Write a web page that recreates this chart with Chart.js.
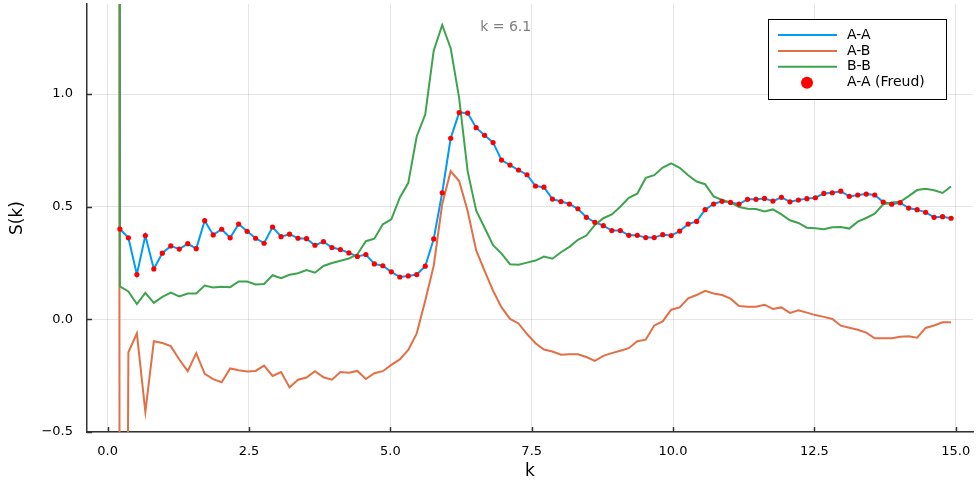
<!DOCTYPE html>
<html>
<head>
<meta charset="utf-8">
<title>S(k)</title>
<script src="https://cdn.jsdelivr.net/npm/chart.js@4/dist/chart.umd.min.js"></script>
<style>
  html, body { margin: 0; padding: 0; background: #fff; }
  canvas { display: block; }
</style>
</head>
<body>
<canvas id="sk-chart" width="977" height="486"></canvas>
<script>
// wave numbers shared by all curves (first bin sits next to k = 0)
const kGrid = [
  0.067, 0.217, 0.367, 0.517, 0.667, 0.817, 0.967, 1.117, 1.267, 1.417,
  1.567, 1.717, 1.867, 2.017, 2.167, 2.317, 2.467, 2.617, 2.767, 2.917,
  3.067, 3.217, 3.367, 3.517, 3.667, 3.817, 3.967, 4.117, 4.267, 4.417,
  4.567, 4.717, 4.867, 5.017, 5.167, 5.317, 5.467, 5.617, 5.767, 5.917,
  6.067, 6.217, 6.367, 6.517, 6.667, 6.817, 6.967, 7.117, 7.267, 7.417,
  7.567, 7.717, 7.867, 8.017, 8.167, 8.317, 8.467, 8.617, 8.767, 8.917,
  9.067, 9.217, 9.367, 9.517, 9.667, 9.817, 9.967, 10.117, 10.267, 10.417,
  10.567, 10.717, 10.867, 11.017, 11.167, 11.317, 11.467, 11.617, 11.767, 11.917,
  12.067, 12.217, 12.367, 12.517, 12.667, 12.817, 12.967, 13.117, 13.267, 13.417,
  13.567, 13.717, 13.867, 14.017, 14.167, 14.317, 14.467, 14.617, 14.767, 14.917
];

const sAA = [
  380, 0.401, 0.362, 0.199, 0.372, 0.224, 0.294, 0.326, 0.312, 0.336,
  0.314, 0.438, 0.375, 0.400, 0.362, 0.423, 0.391, 0.360, 0.338, 0.410,
  0.367, 0.378, 0.360, 0.358, 0.329, 0.345, 0.319, 0.310, 0.295, 0.279,
  0.288, 0.246, 0.238, 0.211, 0.188, 0.193, 0.199, 0.236, 0.357, 0.562,
  0.804, 0.918, 0.916, 0.851, 0.817, 0.785, 0.707, 0.685, 0.663, 0.642,
  0.592, 0.587, 0.534, 0.523, 0.512, 0.491, 0.453, 0.431, 0.416, 0.394,
  0.394, 0.373, 0.373, 0.363, 0.363, 0.376, 0.372, 0.392, 0.423, 0.435,
  0.487, 0.512, 0.524, 0.519, 0.512, 0.533, 0.533, 0.537, 0.525, 0.542,
  0.522, 0.530, 0.536, 0.540, 0.559, 0.562, 0.569, 0.546, 0.552, 0.556,
  0.552, 0.521, 0.511, 0.518, 0.494, 0.487, 0.475, 0.453, 0.456, 0.449
];

const sAB = [
  400, -8.0, -0.146, -0.062, -0.411, -0.097, -0.105, -0.119, -0.178, -0.230,
  -0.150, -0.242, -0.265, -0.279, -0.218, -0.226, -0.231, -0.229, -0.205, -0.251,
  -0.234, -0.302, -0.268, -0.258, -0.230, -0.257, -0.268, -0.234, -0.237, -0.229,
  -0.265, -0.239, -0.230, -0.202, -0.178, -0.136, -0.062, 0.083, 0.238, 0.511,
  0.658, 0.614, 0.481, 0.307, 0.215, 0.127, 0.053, 0.002, -0.018, -0.065,
  -0.106, -0.134, -0.143, -0.157, -0.155, -0.155, -0.167, -0.184, -0.162, -0.150,
  -0.139, -0.128, -0.097, -0.090, -0.027, -0.009, 0.043, 0.053, 0.093, 0.108,
  0.127, 0.115, 0.108, 0.092, 0.059, 0.056, 0.056, 0.065, 0.046, 0.053,
  0.029, 0.040, 0.030, 0.019, 0.011, 0.002, -0.028, -0.037, -0.046, -0.059,
  -0.084, -0.084, -0.084, -0.077, -0.075, -0.081, -0.038, -0.027, -0.013, -0.013
];

const sBB = [
  400, 0.146, 0.124, 0.068, 0.118, 0.073, 0.100, 0.119, 0.102, 0.115,
  0.115, 0.150, 0.142, 0.145, 0.143, 0.168, 0.168, 0.155, 0.157, 0.196,
  0.183, 0.198, 0.205, 0.219, 0.207, 0.237, 0.250, 0.260, 0.270, 0.289,
  0.347, 0.358, 0.422, 0.444, 0.540, 0.606, 0.813, 0.909, 1.193, 1.307,
  1.204, 0.982, 0.658, 0.484, 0.407, 0.329, 0.292, 0.245, 0.243, 0.252,
  0.261, 0.279, 0.269, 0.298, 0.322, 0.353, 0.372, 0.419, 0.449, 0.466,
  0.500, 0.540, 0.558, 0.628, 0.640, 0.674, 0.693, 0.673, 0.640, 0.612,
  0.600, 0.546, 0.530, 0.519, 0.499, 0.491, 0.490, 0.479, 0.488, 0.466,
  0.440, 0.428, 0.407, 0.404, 0.400, 0.409, 0.410, 0.403, 0.434, 0.450,
  0.469, 0.511, 0.519, 0.522, 0.547, 0.574, 0.580, 0.573, 0.561, 0.590
];

const xTicks = [0, 2.5, 5, 7.5, 10, 12.5, 15];
const yTicks = [-0.5, 0, 0.5, 1.0];
const seriesNames = ['A-A', 'A-B', 'B-B', 'A-A (Freud)'];
const peakNote = { text: 'k = 6.1', k: 7.04, s: 1.295 };

const FONT = 'DejaVu Sans';
const COLORS = { aa: '#009af9', ab: '#e26f46', bb: '#3da44d', freud: '#ff0000' };

function toPoints(values) {
  return kGrid.map((k, i) => ({ x: k, y: values[i] }));
}

// Freud's curve has no value in the first bin
const freudPoints = toPoints(sAA).slice(1);

function fmtTick(v) {
  const s = Math.abs(v).toFixed(1);
  return v < 0 ? '\u2212' + s : s;
}

// small ticks drawn inward from the axes
const innerTicks = {
  id: 'innerTicks',
  afterDraw(chart) {
    const { ctx, chartArea, scales } = chart;
    ctx.save();
    ctx.strokeStyle = '#333';
    ctx.lineWidth = 1.5;
    ctx.beginPath();
    xTicks.forEach(v => {
      const px = Math.round(scales.x.getPixelForValue(v)) + 0.5;
      ctx.moveTo(px, chartArea.bottom);
      ctx.lineTo(px, chartArea.bottom - 5);
    });
    yTicks.forEach(v => {
      const py = Math.round(scales.y.getPixelForValue(v)) + 0.5;
      ctx.moveTo(chartArea.left, py);
      ctx.lineTo(chartArea.left + 5, py);
    });
    ctx.stroke();
    ctx.restore();
  }
};

const noteLabel = {
  id: 'noteLabel',
  afterDatasetsDraw(chart) {
    const { ctx, scales } = chart;
    ctx.save();
    ctx.font = '14px "' + FONT + '"';
    ctx.fillStyle = '#808080';
    ctx.textAlign = 'center';
    ctx.textBaseline = 'middle';
    ctx.fillText(peakNote.text, scales.x.getPixelForValue(peakNote.k), scales.y.getPixelForValue(peakNote.s));
    ctx.restore();
  }
};

const boxLegend = {
  id: 'boxLegend',
  afterDraw(chart) {
    const { ctx, chartArea } = chart;
    const right = chartArea.right - 27;
    const top = chartArea.top + 15;
    const w = 178, h = 80;
    const left = right - w;
    ctx.save();
    ctx.fillStyle = '#fff';
    ctx.fillRect(left, top, w, h);
    ctx.strokeStyle = '#000';
    ctx.lineWidth = 1;
    ctx.strokeRect(Math.round(left) + 0.5, Math.round(top) + 0.5, w, h);
    ctx.font = '14px "' + FONT + '"';
    ctx.textBaseline = 'middle';
    ctx.textAlign = 'left';
    chart.data.datasets.forEach((ds, i) => {
      const y = top + 16 + i * 15.9;
      if (ds.showLine === false) {
        ctx.fillStyle = ds.backgroundColor;
        ctx.beginPath();
        ctx.arc(left + 39, y, 6, 0, Math.PI * 2);
        ctx.fill();
      } else {
        ctx.strokeStyle = ds.borderColor;
        ctx.lineWidth = 2;
        ctx.beginPath();
        ctx.moveTo(left + 10, y);
        ctx.lineTo(left + 69, y);
        ctx.stroke();
      }
      ctx.fillStyle = '#000';
      ctx.fillText(ds.label, left + 79, y);
    });
    ctx.restore();
  }
};

const lineStyle = color => ({
  borderColor: color,
  backgroundColor: color,
  borderWidth: 2,
  pointRadius: 0,
  tension: 0,
  fill: false
});

new Chart(document.getElementById('sk-chart').getContext('2d'), {
  type: 'line',
  data: {
    datasets: [
      { label: seriesNames[0], data: toPoints(sAA), order: 3, ...lineStyle(COLORS.aa) },
      { label: seriesNames[1], data: toPoints(sAB), order: 2, ...lineStyle(COLORS.ab) },
      { label: seriesNames[2], data: toPoints(sBB), order: 1, ...lineStyle(COLORS.bb) },
      {
        label: seriesNames[3],
        data: freudPoints,
        order: 0,
        showLine: false,
        pointRadius: 2.6,
        pointBorderWidth: 0,
        pointBackgroundColor: COLORS.freud,
        backgroundColor: COLORS.freud,
        borderColor: COLORS.freud
      }
    ]
  },
  options: {
    responsive: false,
    animation: false,
    devicePixelRatio: 1,
    layout: { padding: { top: 2, right: 2, left: 0, bottom: 0 } },
    plugins: {
      legend: { display: false },
      tooltip: { enabled: false }
    },
    scales: {
      x: {
        type: 'linear',
        min: -0.365,
        max: 15.305,
        afterBuildTicks: scale => { scale.ticks = xTicks.map(v => ({ value: v })); },
        afterFit: scale => {
          scale.height = 54;
          scale.paddingLeft = 0;
          scale.paddingRight = 0;
        },
        ticks: {
          callback: v => fmtTick(v),
          font: { family: FONT, size: 13 },
          color: '#000',
          padding: 12,
          maxRotation: 0,
          autoSkip: false
        },
        grid: { color: 'rgba(0,0,0,0.1)', drawTicks: false },
        border: { color: '#333', width: 1.5 },
        title: {
          display: true,
          text: 'k',
          font: { family: FONT, size: 17 },
          color: '#000',
          padding: { top: 0, bottom: 4 }
        }
      },
      y: {
        min: -0.5,
        max: 1.4,
        afterBuildTicks: scale => { scale.ticks = yTicks.map(v => ({ value: v })); },
        afterFit: scale => {
          scale.width = 87;
          scale.paddingTop = 0;
          scale.paddingBottom = 0;
        },
        ticks: {
          callback: v => fmtTick(v),
          font: { family: FONT, size: 13 },
          color: '#000',
          padding: 14
        },
        grid: { color: 'rgba(0,0,0,0.1)', drawTicks: false },
        border: { color: '#333', width: 1.5 },
        title: {
          display: true,
          text: 'S(k)',
          font: { family: FONT, size: 17 },
          color: '#000',
          padding: { top: 7, bottom: 0 }
        }
      }
    }
  },
  plugins: [innerTicks, noteLabel, boxLegend]
});
</script>
</body>
</html>
